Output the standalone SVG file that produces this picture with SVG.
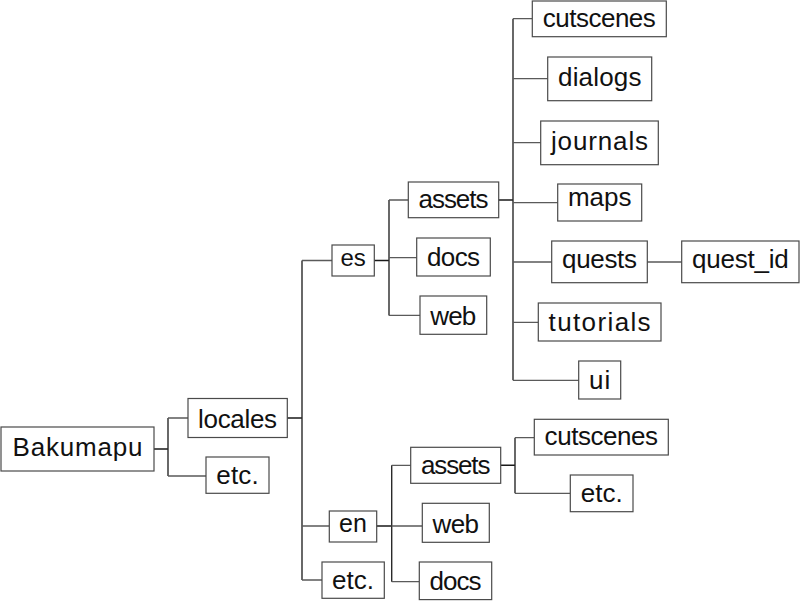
<svg xmlns="http://www.w3.org/2000/svg" width="800" height="601" viewBox="0 0 800 601">
<style>
rect.n{fill:#fff;stroke:#4a4a4a;stroke-width:1.2}
text{font-family:"Liberation Sans",Arial,sans-serif;font-size:26px;fill:#111;text-anchor:middle}
.stub{fill:none;stroke:#1a1a1a;stroke-width:1.5}
.trunk{fill:none;stroke:#2a2a2a;stroke-width:1.4}
.edge{fill:none;stroke:#5a5a5a;stroke-width:1.3}
</style>
<rect width="800" height="601" fill="#fff"/>
<g id="connectors">
<path class="stub" d="M154 449H168M287 418H302M374 260.5H389M498 200H513M376 526H391.7M501 465.3H515"/>
<path class="trunk" d="M168 418V476M302 260.5V580M389 200V315.5M513 18.7V380.3M391.7 465.3V581.7M515 437.7V493.3"/>
<path class="edge" d="M168 418H188M168 476H206M302 260.5H332M302 526H329M302 580H322M389 200H408M389 257.7H417M389 315.3H420M513 18.7H532M513 78.7H548M513 142.7H541M513 202.7H558M513 262H552M513 322.3H538M513 380.3H579M647 262H682M391.7 465.3H411M391.7 526H422M391.7 581.7H419M515 437.7H534M515 493.3H570"/>
</g>
<g id="n-bakumapu"><rect class="n" x="1" y="427" width="153" height="44"/><text x="77.5" y="456" textLength="130" lengthAdjust="spacing">Bakumapu</text></g>
<g id="n-locales"><rect class="n" x="188" y="398.5" width="99.3" height="39"/><text x="237.6" y="427.7" textLength="79" lengthAdjust="spacing">locales</text></g>
<g id="n-etc1"><rect class="n" x="206" y="457" width="63" height="36.3"/><text x="237.5" y="483.7" textLength="42.4" lengthAdjust="spacing">etc.</text></g>
<g id="n-es"><rect class="n" x="332" y="245" width="42.3" height="31"/><text x="353.1" y="266.4" style="font-size:24px">es</text></g>
<g id="n-en"><rect class="n" x="329.3" y="511" width="47.4" height="31"/><text x="353" y="532.4" style="font-size:25px">en</text></g>
<g id="n-etc2"><rect class="n" x="322" y="562" width="62.3" height="36.3"/><text x="353.1" y="588.7" textLength="42" lengthAdjust="spacing">etc.</text></g>
<g id="n-es-assets"><rect class="n" x="408.3" y="182" width="90.4" height="35.7"/><text x="453.5" y="208.1" textLength="69.8" lengthAdjust="spacing">assets</text></g>
<g id="n-es-docs"><rect class="n" x="416.7" y="238" width="73.6" height="38"/><text x="453.5" y="266.4" textLength="53" lengthAdjust="spacing">docs</text></g>
<g id="n-es-web"><rect class="n" x="420" y="296" width="66.7" height="38.3"/><text x="453.3" y="324.7" textLength="46" lengthAdjust="spacing">web</text></g>
<g id="n-es-cutscenes"><rect class="n" x="532.3" y="1" width="134" height="35.7"/><text x="599.3" y="27.1" textLength="113" lengthAdjust="spacing">cutscenes</text></g>
<g id="n-dialogs"><rect class="n" x="547.7" y="57" width="104" height="43.7"/><text x="599.7" y="86" textLength="83.4" lengthAdjust="spacing">dialogs</text></g>
<g id="n-journals"><rect class="n" x="540.7" y="121" width="117.6" height="43.7"/><text x="599.5" y="150" textLength="97" lengthAdjust="spacing">journals</text></g>
<g id="n-maps"><rect class="n" x="557.7" y="184" width="84" height="37"/><text x="599.7" y="206.3" textLength="63.4" lengthAdjust="spacing">maps</text></g>
<g id="n-quests"><rect class="n" x="551.7" y="241" width="95.6" height="41.7"/><text x="599.5" y="268" textLength="75" lengthAdjust="spacing">quests</text></g>
<g id="n-quest-id"><rect class="n" x="681.7" y="241" width="117.3" height="41.7"/><text x="740.3" y="268" textLength="96.7" lengthAdjust="spacing">quest_id</text></g>
<g id="n-tutorials"><rect class="n" x="538.3" y="303" width="122.7" height="38"/><text x="599.6" y="331.4" textLength="102" lengthAdjust="spacing">tutorials</text></g>
<g id="n-ui"><rect class="n" x="578.7" y="361" width="42" height="38"/><text x="599.7" y="389.4" textLength="21.4" lengthAdjust="spacing">ui</text></g>
<g id="n-en-assets"><rect class="n" x="410.7" y="447.3" width="90" height="36"/><text x="455.7" y="473.7" textLength="69.4" lengthAdjust="spacing">assets</text></g>
<g id="n-en-web"><rect class="n" x="422.3" y="503.3" width="67" height="39"/><text x="455.8" y="532.7" textLength="46.4" lengthAdjust="spacing">web</text></g>
<g id="n-en-docs"><rect class="n" x="419.3" y="562" width="72.4" height="37.6"/><text x="455.5" y="590.4" textLength="51.8" lengthAdjust="spacing">docs</text></g>
<g id="n-en-cutscenes"><rect class="n" x="534.3" y="419.3" width="134" height="35.7"/><text x="601.3" y="445.4" textLength="113.4" lengthAdjust="spacing">cutscenes</text></g>
<g id="n-en-etc"><rect class="n" x="570.3" y="475" width="62.7" height="36.7"/><text x="601.7" y="502.1" textLength="42" lengthAdjust="spacing">etc.</text></g>
</svg>
